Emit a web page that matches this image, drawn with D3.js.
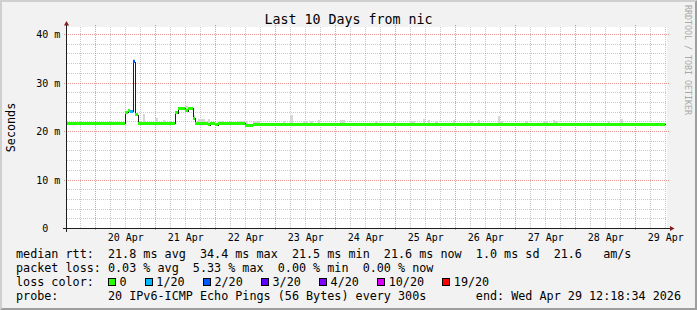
<!DOCTYPE html>
<html><head><meta charset="utf-8">
<script src="https://cdn.jsdelivr.net/npm/d3@7"></script>
<style>
body{margin:0;background:#f2f2f2}
svg{display:block}
text{font-family:"DejaVu Sans Mono",monospace;fill:#000}
</style>
</head><body>
<svg id="c" width="697" height="310"></svg>
<script>
// ---------------- data ----------------
const chartTitle = "Last 10 Days from nic";
const yAxisTitle = "Seconds";
const watermark = "RRDTOOL / TOBI OETIKER";
const startTime = "2026-04-19T12:18:34Z";
const endTime = "2026-04-29T12:18:34Z";
const firstBinStart = "2026-04-19T11:54:00Z"; // hourly consolidated bins
const yTickValues = [0, 10, 20, 30, 40];
const yTickLabels = ["0  ", "10 m", "20 m", "30 m", "40 m"];

// median rtt (ms), one value per hour
const medianMs = [
  21.7,21.7,21.7,21.7,21.7,21.7,21.7,21.7,21.7,21.7,21.7,21.7,21.7,21.7,21.7,21.7,21.7,21.7,21.7,21.7,21.7,21.7,21.7,21.7,
  24.0,24.4,24.2,34.4,23.5,21.7,21.7,21.7,21.7,21.7,21.7,21.7,21.7,21.7,21.7,21.7,21.7,21.7,21.7,21.7,23.9,24.8,24.8,24.8,
  24.3,24.8,24.8,22.7,21.7,21.7,21.7,21.7,21.7,21.4,21.7,21.7,21.4,21.7,21.7,21.7,21.7,21.7,21.7,21.7,21.7,21.7,21.7,21.7,
  21.3,21.3,21.3,21.5,21.5,21.5,21.5,21.5,21.5,21.5,21.5,21.5,21.5,21.5,21.5,21.5,21.5,21.5,21.5,21.5,21.5,21.5,21.5,21.5,
  21.5,21.5,21.5,21.5,21.5,21.5,21.5,21.5,21.5,21.5,21.5,21.5,21.5,21.5,21.5,21.5,21.5,21.5,21.5,21.5,21.5,21.5,21.5,21.5,
  21.5,21.5,21.5,21.5,21.5,21.5,21.5,21.5,21.5,21.5,21.5,21.5,21.5,21.5,21.5,21.5,21.5,21.5,21.5,21.5,21.5,21.5,21.5,21.5,
  21.5,21.5,21.5,21.5,21.5,21.5,21.5,21.5,21.5,21.5,21.5,21.5,21.5,21.5,21.5,21.5,21.5,21.5,21.5,21.5,21.5,21.5,21.5,21.5,
  21.5,21.5,21.5,21.5,21.5,21.5,21.5,21.5,21.5,21.5,21.5,21.5,21.5,21.5,21.5,21.5,21.5,21.5,21.5,21.5,21.5,21.5,21.5,21.5,
  21.5,21.5,21.5,21.5,21.5,21.5,21.5,21.5,21.5,21.5,21.5,21.5,21.5,21.5,21.5,21.5,21.5,21.5,21.5,21.5,21.5,21.5,21.5,21.5,
  21.5,21.5,21.5,21.5,21.5,21.5,21.5,21.5,21.5,21.5,21.5,21.5,21.5,21.5,21.5,21.5,21.5,21.5,21.5,21.5,21.5,21.5,21.5,21.5
];

// hours with packet loss (lost pings out of 20)
const lossBins = [26, 27];
const lossCounts = [1, 2];

// smoke: highest ping (ms) in hours where it stands out above the median
const smokeBins = [27,31,36,39,48, 51,53,54,55,57, 62,69,70,71,72, 75,76,77,87,90,
  95,96,98,101,110, 111,124,131,138,139, 143,145,148,155,162, 165,173,174,184,191, 192,195,196,217,222];
const smokeTopMs = [34.9,23.6,22.8,22.3,25.3, 23.5,22.5,22.5,22.5,22.5, 22.1,22.2,22.2,22.2,22.2, 22.2,22.2,22.1,22.2,23.4,
  22.2,22.2,22.2,22.4,22.3, 22.3,22.2,22.2,22.2,22.1, 22.6,22.3,22.2,22.4,22.2, 22.4,23.1,22.2,22.2,22.2, 22.2,22.4,22.2,22.2,22.6];

// loss colour legend
const lossLabels = ["0", "1/20", "2/20", "3/20", "4/20", "10/20", "19/20"];
const lossThresholds = [0, 1, 2, 3, 4, 10, 19];
const lossColors = ["#26ff00", "#00b8ff", "#0059ff", "#5e00ff", "#7e00ff", "#dd00ff", "#ff0000"];

// statistics shown in the legend
const rttStats = ["21.8", "34.4", "21.5", "21.6", "1.0", "21.6"]; // avg max min now sd am/s
const lossStats = ["0.03", "5.33", "0.00", "0.00"];                 // avg max min now
const probeText = "20 IPv6-ICMP Echo Pings (56 Bytes) every 300s";
const endText = "end: Wed Apr 29 12:18:34 2026";

// ---------------- drawing ----------------
const W = 697, H = 310;
const svg = d3.select("#c");
const t0 = new Date(startTime), t1 = new Date(endTime);
const x = d3.scaleUtc().domain([t0, t1]).range([66.5, 666.5]);
const y = d3.scaleLinear().domain([0, 40]).range([228.5, 34.5]);
const plotTop = 27, plotBottom = 228.5;
const HOUR = 3600e3;
const binStart = k => new Date(+new Date(firstBinStart) + k * HOUR);
const px = v => Math.floor(v) + 0.5;
const GRID = "rgba(143,143,143,0.48)", MGRID = "rgba(222,79,79,0.6)";

// background & shades
svg.append("rect").attr("width", W).attr("height", H).attr("fill", "#f2f2f2");
svg.append("path").attr("d", `M0,0H${W}L${W-2},2H2V${H-2}L0,${H}Z`).attr("fill", "#cfcfcf");
svg.append("path").attr("d", `M${W},0V${H}H0L2,${H-2}H${W-2}V2Z`).attr("fill", "#9e9e9e");

// canvas
svg.append("rect").attr("x", 67).attr("y", plotTop).attr("width", 600).attr("height", plotBottom - plotTop).attr("fill", "#fff");

const grid = svg.append("g").attr("shape-rendering", "crispEdges").attr("stroke-dasharray", "1,1");
// horizontal grid
d3.range(0, 41, 2).forEach(v => {
  const major = v % 10 === 0;
  if (v === 0) return;
  const yy = px(y(v));
  grid.append("line").attr("x1", major ? 64 : 67).attr("x2", major ? 669 : 667)
    .attr("y1", yy).attr("y2", yy)
    .attr("stroke", major ? MGRID : GRID);
});
// vertical grid
d3.utcHour.every(6).range(t0, t1).forEach(t => {
  const major = t.getUTCHours() === 0;
  const xx = px(x(t));
  grid.append("line").attr("x1", xx).attr("x2", xx)
    .attr("y1", major ? 25 : plotTop).attr("y2", major ? 231 : plotBottom)
    .attr("stroke", major ? MGRID : GRID);
});

// data
svg.append("clipPath").attr("id", "plot").append("rect")
  .attr("x", 67).attr("y", plotTop).attr("width", 600).attr("height", plotBottom - plotTop);
const data = svg.append("g").attr("clip-path", "url(#plot)").attr("shape-rendering", "crispEdges");
const bins = medianMs.map((v, k) => ({k, v, a: binStart(k), b: binStart(k + 1)}));
const rx = t => Math.round(x(t));

// smoke
smokeBins.forEach((k, i) => {
  const d = bins[k];
  const top = Math.round(y(smokeTopMs[i]));
  const bot = Math.round(y(d.v) - 1.5);
  data.append("rect").attr("x", rx(d.a)).attr("width", rx(d.b) - rx(d.a))
    .attr("y", top).attr("height", Math.max(0, bot - top)).attr("fill", "#d6d6d6");
});

// median black step line
const linePts = bins.map(d => [rx(d.a) + 0.5, Math.round(y(d.v)) + 0.5]);
const last = bins[bins.length - 1];
linePts.push([rx(last.b) + 0.5, Math.round(y(last.v)) + 0.5]);
data.append("path").attr("d", d3.line().curve(d3.curveStepAfter)(linePts))
  .attr("fill", "none").attr("stroke", "#202020").attr("stroke-width", 1);

// loss-coloured median bands
const lossOf = k => { const i = lossBins.indexOf(k); return i < 0 ? 0 : lossCounts[i]; };
const colorOf = c => { let idx = 0; lossThresholds.forEach((th, i) => { if (c >= th) idx = i; }); return lossColors[idx]; };
bins.forEach(d => {
  data.append("rect").attr("x", rx(d.a)).attr("width", rx(d.b) - rx(d.a))
    .attr("y", Math.round(y(d.v) - 1.5)).attr("height", 3)
    .attr("fill", colorOf(lossOf(d.k)));
});

// axes
const axis = svg.append("g").attr("shape-rendering", "crispEdges");
axis.append("line").attr("x1", 66.5).attr("x2", 66.5).attr("y1", 232).attr("y2", 24).attr("stroke", "#1f1f1f");
axis.append("line").attr("x1", 63).attr("x2", 671).attr("y1", 228.5).attr("y2", 228.5).attr("stroke", "#1f1f1f");
svg.append("path").attr("d", "M64,25.5L69,25.5L66.5,21Z").attr("fill", "#801f1f");
svg.append("path").attr("d", "M670,226L670,231L674.5,228.5Z").attr("fill", "#801f1f");

// y tick labels
yTickValues.forEach((v, i) => {
  svg.append("text").attr("x", 60.3).attr("y", y(v) + 3.6).attr("text-anchor", "end")
    .attr("font-size", "10px").style("white-space", "pre").text(yTickLabels[i]);
});
// x labels at noon
d3.utcDay.range(t0, t1).forEach(d => {
  const noon = d3.utcHour.offset(d, 12);
  if (noon > t1) return;
  svg.append("text").attr("x", x(noon)).attr("y", 241).attr("text-anchor", "middle")
    .attr("font-size", "10px").text(d3.utcFormat("%d %b")(d));
});

// title & axis title & watermark
svg.append("text").attr("x", 348.5).attr("y", 24).attr("text-anchor", "middle")
  .attr("font-size", "13.3px").text(chartTitle);
svg.append("text").attr("transform", "translate(15,127.5) rotate(-90)").attr("text-anchor", "middle")
  .attr("font-size", "11.75px").text(yAxisTitle);
svg.append("text").attr("transform", "translate(685,5) rotate(90)")
  .attr("font-size", "8.3px").style("fill", "#a8a8a8").text(watermark);

// legend
const LF = "11.75px";
const legendRow = (yy, s) => svg.append("text").attr("x", 16).attr("y", yy)
  .attr("font-size", LF).style("white-space", "pre").text(s);
legendRow(257.8, `median rtt:  ${rttStats[0]} ms avg  ${rttStats[1]} ms max  ${rttStats[2]} ms min  ${rttStats[3]} ms now  ${rttStats[4]} ms sd  ${rttStats[5]}   am/s`);
legendRow(272, `packet loss: ${lossStats[0]} % avg  ${lossStats[1]} % max  ${lossStats[2]} % min  ${lossStats[3]} % now`);
legendRow(286.1, "loss color:");
legendRow(300.3, `probe:       ${probeText}`);
svg.append("text").attr("x", 681).attr("y", 300.3).attr("text-anchor", "end")
  .attr("font-size", LF).style("white-space", "pre").text(endText);

const cw = 7.07;
let lx = 108.5;
lossLabels.forEach((lab, i) => {
  svg.append("rect").attr("x", lx).attr("y", 278.5).attr("width", 7).attr("height", 7)
    .attr("fill", lossColors[i]).attr("stroke", "#000").attr("shape-rendering", "crispEdges");
  svg.append("text").attr("x", lx + 11).attr("y", 286.1).attr("font-size", LF).text(lab);
  lx += 11 + lab.length * cw + 18.8;
});
</script>
</body></html>
